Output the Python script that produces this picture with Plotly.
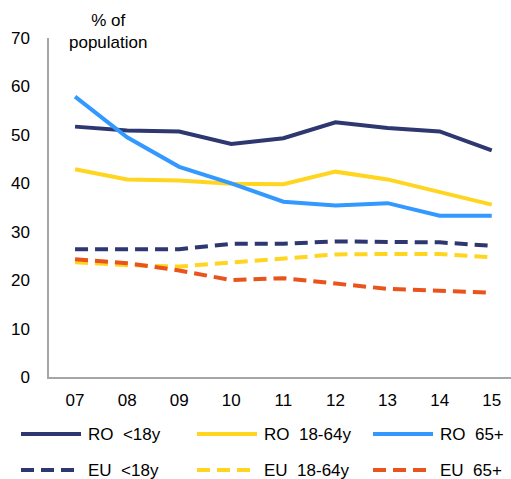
import plotly.graph_objects as go

years = ["07", "08", "09", "10", "11", "12", "13", "14", "15"]

ro_lt18 = [51.7, 50.9, 50.7, 48.1, 49.3, 52.6, 51.4, 50.7, 46.8]
ro_18_64 = [42.9, 40.8, 40.6, 39.9, 39.8, 42.4, 40.8, 38.1, 35.6]
ro_65 = [57.9, 49.5, 43.4, 40.0, 36.2, 35.4, 35.9, 33.3, 33.3]
eu_lt18 = [26.4, 26.4, 26.4, 27.5, 27.5, 28.0, 28.0, 27.8, 27.1]
eu_18_64 = [23.7, 23.1, 22.8, 23.7, 24.5, 25.3, 25.4, 25.4, 24.7]
eu_65 = [24.3, 23.5, 22.0, 20.0, 20.4, 19.2, 18.2, 17.8, 17.4]

y_ticks = [0, 10, 20, 30, 40, 50, 60, 70]

NAVY = "#2E3770"
YELLOW = "#FFD520"
BLUE = "#3399FF"
ORANGE = "#E8541C"
DASH = "13px,7px"

series = [
    ("RO  <18y", ro_lt18, NAVY, "solid"),
    ("RO  18-64y", ro_18_64, YELLOW, "solid"),
    ("RO  65+", ro_65, BLUE, "solid"),
    ("EU  <18y", eu_lt18, NAVY, DASH),
    ("EU  18-64y", eu_18_64, YELLOW, DASH),
    ("EU  65+", eu_65, ORANGE, DASH),
]

title_text = "% of<br>population"

W, H = 511, 479
ML, MR, MT, MB = 49, 0, 38, 102
PW, PH = W - ML - MR, H - MT - MB


def px(x):
    return (x - ML) / PW


def py(y):
    return (H - MB - y) / PH


FONT = "Liberation Sans, Arial, sans-serif"
FS = 17

xi = list(range(len(years)))
fig = go.Figure()
shapes = []
annotations = []
for i, (name, vals, col, dash) in enumerate(series):
    fig.add_trace(go.Scatter(
        x=xi, y=vals, mode="lines", name=name, showlegend=False,
        line=dict(color=col, width=4, dash=dash),
    ))
    row, c = divmod(i, 3)
    ly = 434 + row * 36
    lx0 = 21 + c * 176
    shapes.append(dict(
        type="line", xref="paper", yref="paper",
        x0=px(lx0), x1=px(lx0 + 60), y0=py(ly), y1=py(ly),
        line=dict(color=col, width=4, dash=dash),
    ))
    annotations.append(dict(
        text=name, xref="paper", yref="paper", x=px(lx0 + 65), y=py(ly),
        xanchor="left", yanchor="middle", showarrow=False,
        font=dict(size=FS, family=FONT, color="#000000"),
    ))

annotations.append(dict(
    text=title_text, xref="paper", yref="paper",
    x=px(107.5), y=py(32), xanchor="center", yanchor="middle",
    showarrow=False, font=dict(size=FS, family=FONT, color="#000000"),
    align="center",
))

fig.update_layout(
    width=W, height=H,
    margin=dict(l=ML, r=MR, t=MT, b=MB, autoexpand=False),
    plot_bgcolor="white", paper_bgcolor="white",
    font=dict(family=FONT, size=FS, color="#000000"),
    showlegend=False,
    xaxis=dict(
        range=[-0.5, 8.37], tickmode="array", tickvals=xi, ticktext=years,
        showgrid=False, zeroline=False, showline=True, linecolor="#A6A6A6",
        linewidth=1.5, ticks="", ticklabelstandoff=7,
        tickfont=dict(size=FS, family=FONT),
    ),
    yaxis=dict(
        range=[0, 70], tickvals=y_ticks, showgrid=False, zeroline=False,
        showline=True, linecolor="#A6A6A6", linewidth=1.5, ticks="",
        ticklabelstandoff=14, tickfont=dict(size=FS, family=FONT),
    ),
    shapes=shapes,
    annotations=annotations,
)

fig.write_html(
    "out.html",
    config={"displayModeBar": False},
    post_script="document.body.style.margin='0';document.body.style.overflow='hidden';",
)
